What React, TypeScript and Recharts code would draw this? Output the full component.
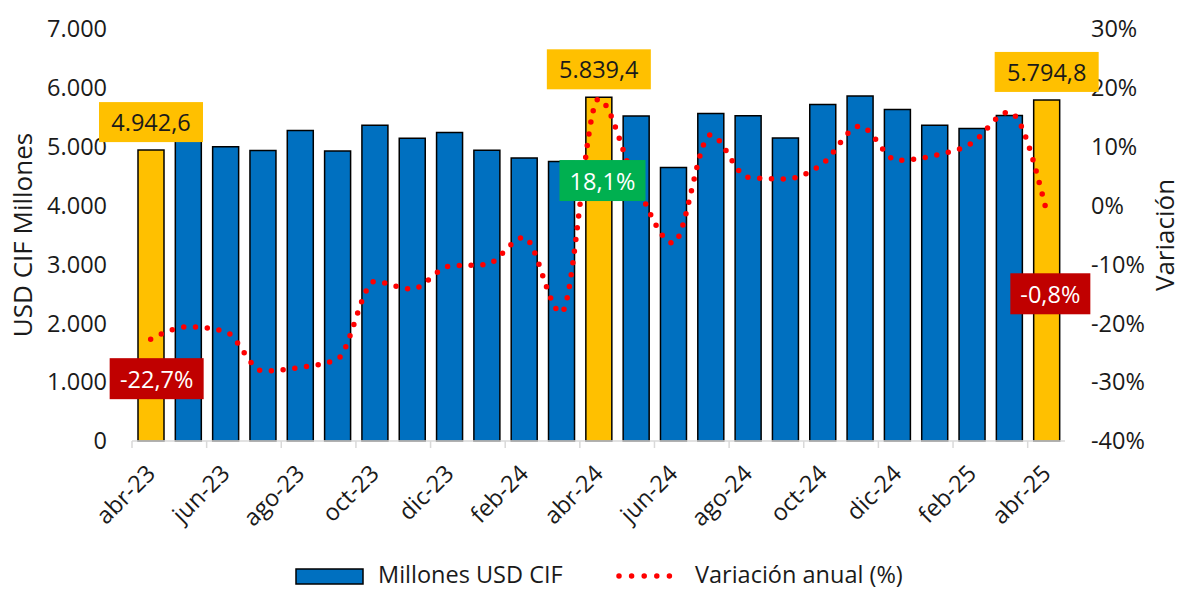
import { ComposedChart, Bar, Line, XAxis, YAxis, Cell, LabelList, Label } from 'recharts'

const MONTHS = [
  'abr-23', 'may-23', 'jun-23', 'jul-23', 'ago-23', 'sep-23', 'oct-23', 'nov-23', 'dic-23',
  'ene-24', 'feb-24', 'mar-24', 'abr-24', 'may-24', 'jun-24', 'jul-24', 'ago-24', 'sep-24',
  'oct-24', 'nov-24', 'dic-24', 'ene-25', 'feb-25', 'mar-25', 'abr-25',
]
const IMPORTS = [
  4942.6, 5150, 5000, 4935, 5276, 4928, 5366, 5145, 5242, 4940, 4809, 4748, 5839.4, 5520, 4645,
  5565, 5525, 5150, 5718, 5860, 5633, 5366, 5310, 5531, 5794.8,
]
const VARIATION = [
  -22.7, -20.6, -21.4, -28.1, -27.5, -26.1, -12.9, -14.2, -10.3, -10.0, -5.4, -18.2, 18.1, 3.8,
  -6.4, 12.0, 4.8, 4.5, 7.1, 13.5, 7.7, 8.5, 10.6, 15.9, -0.8,
]
const HIGHLIGHT_MONTHS = ['abr-23', 'abr-24', 'abr-25']
const LEFT_TICKS = [0, 1000, 2000, 3000, 4000, 5000, 6000, 7000]
const RIGHT_TICKS = [-40, -30, -20, -10, 0, 10, 20, 30]

const BLUE = '#0070C0'
const YELLOW = '#FFC000'
const RED = '#FF0000'
const FONT = '"Open Sans", sans-serif'

// where each variation label box sits, relative to its point
const LINE_LABEL_STYLE: Record<string, { dx: number; dy: number; w: number; fill: string }> = {
  'abr-23': { dx: 6, dy: 39, w: 94, fill: '#C00000' },
  'abr-24': { dx: 4, dy: 81, w: 86, fill: '#00B050' },
  'abr-25': { dx: 4, dy: 83, w: 80, fill: '#C00000' },
}

const data = MONTHS.map((month, i) => ({ month, imports: IMPORTS[i], variation: VARIATION[i] }))

const thousands = (s: string) => s.replace(/\B(?=(\d{3})+(?!\d))/g, '.')
const fmtAmount = (v: number) => {
  const [int, dec] = v.toFixed(1).split('.')
  return `${thousands(int)},${dec}`
}
const fmtPct = (v: number) => `${v.toFixed(1).replace('.', ',')}%`

function BarValueLabel(props: any) {
  const { x, y, width, index } = props
  const month = MONTHS[index]
  if (!HIGHLIGHT_MONTHS.includes(month)) return null
  const cx = Number(x) + Number(width) / 2
  const bottom = Number(y) - 8
  return (
    <g>
      <rect x={cx - 52} y={bottom - 40} width={104} height={40} fill={YELLOW} />
      <text x={cx} y={bottom - 20} textAnchor="middle" dominantBaseline="central" fontSize={23.5} fontFamily={FONT} fill="#1a1a1a">
        {fmtAmount(IMPORTS[index])}
      </text>
    </g>
  )
}

function LineValueLabel(props: any) {
  const { x, y, index } = props
  const style = LINE_LABEL_STYLE[MONTHS[index]]
  if (!style) return null
  const cx = Number(x) + style.dx
  const cy = Number(y) + style.dy
  return (
    <g>
      <rect x={cx - style.w / 2} y={cy - 20} width={style.w} height={41} fill={style.fill} />
      <text x={cx} y={cy + 1} textAnchor="middle" dominantBaseline="central" fontSize={23.5} fontFamily={FONT} fill="#fff">
        {fmtPct(VARIATION[index])}
      </text>
    </g>
  )
}

function MonthTick(props: any) {
  const { x, y, payload } = props
  const half = payload?.offset ?? 18.66
  return (
    <g>
      <line x1={x - half} x2={x - half} y1={y} y2={y + 7} stroke="#D9D9D9" strokeWidth={1.5} />
      <text
        x={x + 6}
        y={y + 34}
        textAnchor="end"
        transform={`rotate(-45 ${x + 6} ${y + 34})`}
        fontSize={23.5}
        fontFamily={FONT}
        fill="#1a1a1a"
      >
        {payload.value}
      </text>
    </g>
  )
}

function AxisTitle({ viewBox, value, dx }: any) {
  const cx = viewBox.x + dx
  const cy = viewBox.y + viewBox.height / 2
  return (
    <text x={cx} y={cy} textAnchor="middle" dominantBaseline="central" transform={`rotate(-90 ${cx} ${cy})`} fontSize={26} fontFamily={FONT} fill="#1a1a1a">
      {value}
    </text>
  )
}

function ChartLegend() {
  return (
    <svg width={1183} height={44} style={{ position: 'absolute', left: 0, top: 543, overflow: 'visible' }}>
      <rect x={296} y={26} width={67} height={15} fill={BLUE} stroke="#000" strokeWidth={1.5} />
      <text x={378} y={31} dominantBaseline="central" fontSize={23.5} fontFamily={FONT} fill="#1a1a1a">
        Millones USD CIF
      </text>
      <line x1={619} x2={682} y1={33} y2={33} stroke={RED} strokeWidth={5.5} strokeDasharray="0 12.6" strokeLinecap="round" />
      <text x={695} y={31} dominantBaseline="central" fontSize={23.5} fontFamily={FONT} fill="#1a1a1a">
        Variación anual (%)
      </text>
    </svg>
  )
}

export default function App() {
  return (
    <div style={{ position: 'absolute', left: 0, top: 0, width: 1183, height: 589, background: '#fff' }}>
      <ComposedChart width={1183} height={589} data={data} margin={{ top: 29, right: 0, bottom: 0, left: 0 }}>
        <XAxis
          dataKey="month"
          interval={1}
          height={148}
          tick={<MonthTick />}
          tickLine={false}
          tickSize={0}
          tickMargin={0}
          axisLine={{ stroke: '#D9D9D9', strokeWidth: 1.5 }}
        />
        <YAxis
          yAxisId="left"
          width={132}
          domain={[0, 7000]}
          ticks={LEFT_TICKS}
          tickFormatter={(v: number) => thousands(String(v))}
          tick={{ fontSize: 23.5, fontFamily: FONT, fill: '#1a1a1a' }}
          axisLine={false}
          tickLine={false}
          tickSize={0}
          tickMargin={25}
        >
          <Label content={<AxisTitle value="USD CIF Millones" dx={22} />} />
        </YAxis>
        <YAxis
          yAxisId="right"
          orientation="right"
          width={118}
          domain={[-40, 30]}
          ticks={RIGHT_TICKS}
          tickFormatter={(v: number) => `${v}%`}
          tick={{ fontSize: 23.5, fontFamily: FONT, fill: '#1a1a1a' }}
          axisLine={false}
          tickLine={false}
          tickSize={0}
          tickMargin={26}
        >
          <Label content={<AxisTitle value="Variación" dx={99} />} />
        </YAxis>
        <Bar yAxisId="left" dataKey="imports" barSize={26} stroke="#000" strokeWidth={1.5} isAnimationActive={false}>
          {data.map((d) => (
            <Cell key={d.month} fill={HIGHLIGHT_MONTHS.includes(d.month) ? YELLOW : BLUE} />
          ))}
          <LabelList dataKey="imports" content={<BarValueLabel />} />
        </Bar>
        <Line
          yAxisId="right"
          type="monotone"
          dataKey="variation"
          stroke={RED}
          strokeWidth={5.5}
          strokeDasharray="0 11.8"
          strokeLinecap="round"
          dot={false}
          activeDot={false}
          isAnimationActive={false}
        >
          <LabelList dataKey="variation" content={<LineValueLabel />} />
        </Line>
      </ComposedChart>
      <ChartLegend />
    </div>
  )
}
